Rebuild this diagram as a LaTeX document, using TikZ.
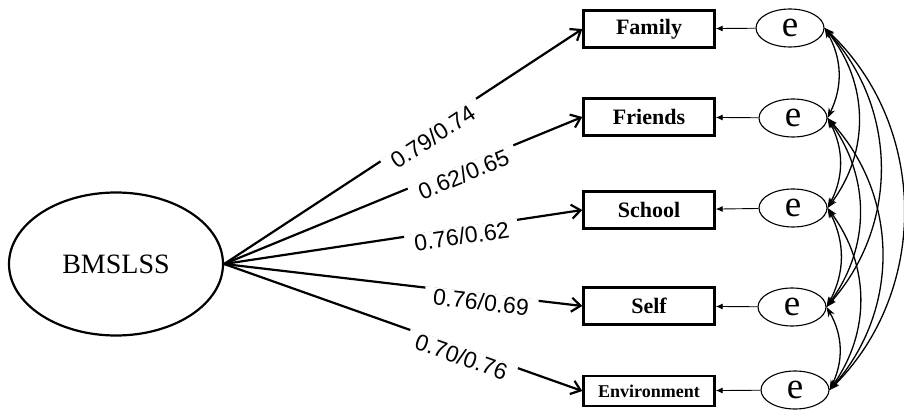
\documentclass[tikz,border=0pt]{standalone}
\usepackage{fontspec}
\setmainfont{Liberation Serif}
\newfontfamily\labfont{Liberation Sans}
\usetikzlibrary{arrows.meta,shapes.geometric}

\begin{document}
\begin{tikzpicture}[x=1pt,y=-1pt,
    latent/.style={draw,ellipse,line width=2.2pt,minimum width=214pt,minimum height=143pt,inner sep=0pt,font=\fontsize{28}{30}\selectfont},
    obs/.style={draw,rectangle,line width=2.4pt,minimum width=131pt,minimum height=37pt,inner sep=0pt,font=\fontsize{22}{24}\selectfont\bfseries},
    err/.style={draw,ellipse,line width=1.1pt,minimum width=68pt,minimum height=38pt,inner sep=0pt,font=\fontsize{37}{37}\selectfont},
    load/.style={line width=2.2pt,-{Straight Barb[length=9pt,width=14pt]}},
    lab/.style={sloped,fill=white,inner xsep=9pt,inner ysep=1pt,yshift=-8pt,font=\labfont\fontsize{23}{25}\selectfont},
    errarrow/.style={line width=0.9pt,-{Latex[length=7pt,width=6pt]}},
    cov/.style={line width=1.3pt,{Stealth[length=10pt,width=7pt]}-{Stealth[length=10pt,width=7pt]}}
  ]
  \useasboundingbox (0,0) rectangle (904,411);
  \path
  % latent factor
  (116,264) node[latent](bms) {BMSLSS}

  % observed domains
  (649,29) node[obs](fam) {Family}
  (649,117) node[obs](fri) {Friends}
  (649,210) node[obs](sch) {School}
  (649,306) node[obs](slf) {Self}
  (649,391) node[obs,minimum height=29.5pt,font=\fontsize{18}{20}\selectfont\bfseries](env) {Environment}

  % errors
  (790,28) node[err](e1) {e}
  (793,118) node[err](e2) {e}
  (793,208) node[err](e3) {e}
  (792,307) node[err](e4) {e}
  (795,390) node[err](e5) {e}
  ;

  \draw[load] (bms.east) -- node[lab,pos=0.57] {0.79/0.74} (fam.west);
  \draw[load] (bms.east) -- node[lab,pos=0.66] {0.62/0.65} (fri.west);
  \draw[load] (bms.east) -- node[lab,pos=0.66] {0.76/0.62} (sch.west);
  \draw[load] (bms.east) -- node[lab,pos=0.72] {0.76/0.69} (slf.west);
  \draw[load] (bms.east) -- node[lab,pos=0.67] {0.70/0.76} (env.west);

  \draw[errarrow] (e1) -- (fam);
  \draw[errarrow] (e2) -- (fri);
  \draw[errarrow] (e3) -- (sch);
  \draw[errarrow] (e4) -- (slf);
  \draw[errarrow] (e5) -- (env);

  \draw[cov] (e1.east) to[bend left=28] (e2.east);
  \draw[cov] (e1.east) to[bend left=38] (e3.east);
  \draw[cov] (e1.east) to[bend left=42] (e4.east);
  \draw[cov] (e1.east) to[bend left=46] (e5.east);
  \draw[cov] (e2.east) to[bend left=28] (e3.east);
  \draw[cov] (e2.east) to[bend left=36] (e4.east);
  \draw[cov] (e2.east) to[bend left=42] (e5.east);
  \draw[cov] (e3.east) to[bend left=28] (e4.east);
  \draw[cov] (e3.east) to[bend left=36] (e5.east);
  \draw[cov] (e4.east) to[bend left=28] (e5.east);
\end{tikzpicture}
\end{document}
